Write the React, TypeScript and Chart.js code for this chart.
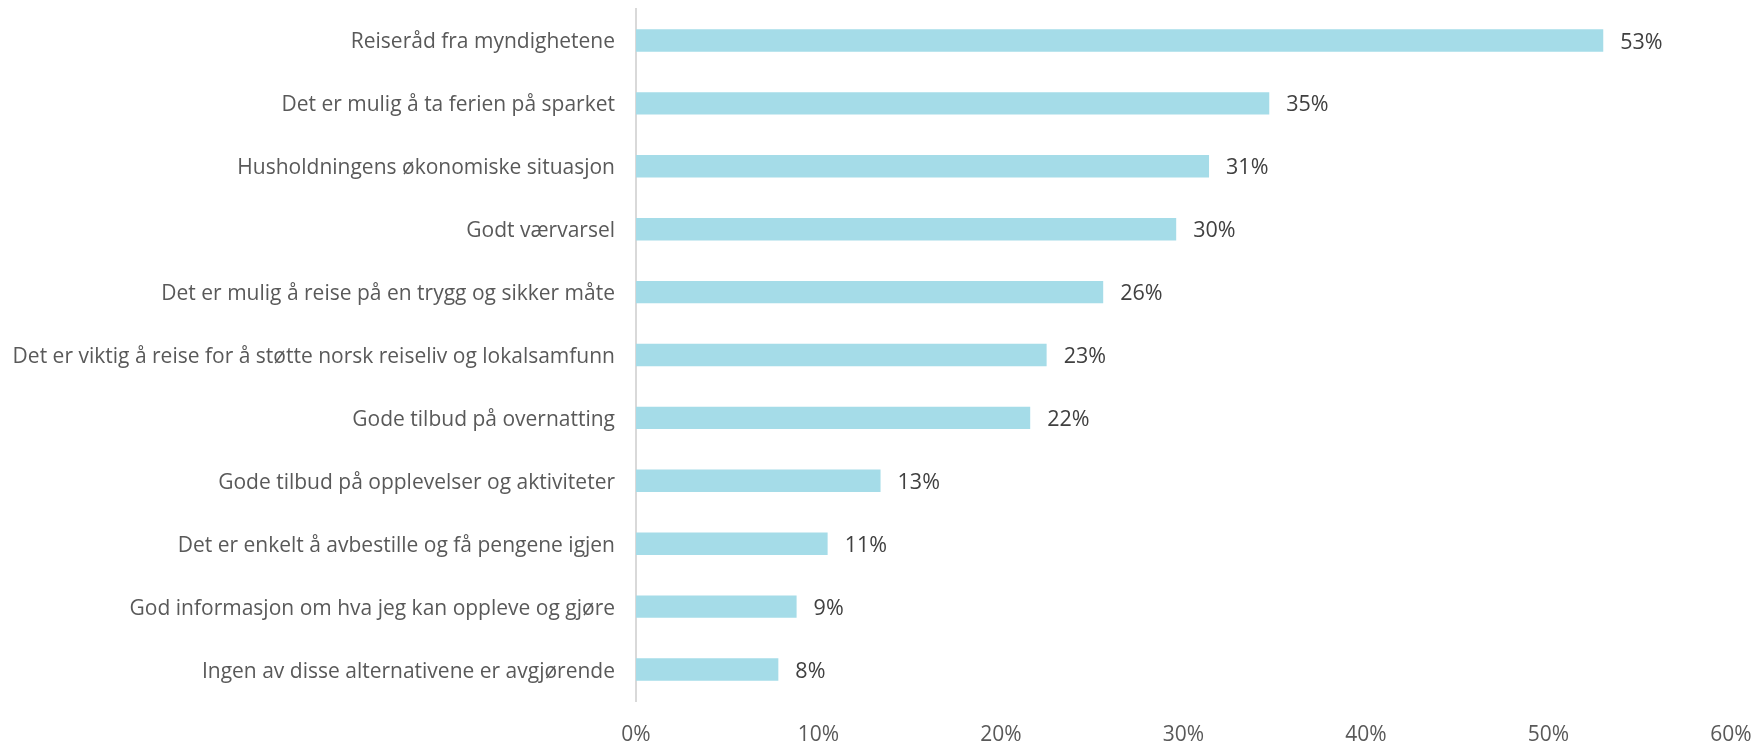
import React, { useEffect, useRef } from 'react';
import { Chart, registerables } from 'chart.js';

Chart.register(...registerables);

const categories = [
  'Reiseråd fra myndighetene',
  'Det er mulig å ta ferien på sparket',
  'Husholdningens økonomiske situasjon',
  'Godt værvarsel',
  'Det er mulig å reise på en trygg og sikker måte',
  'Det er viktig å reise for å støtte norsk reiseliv og lokalsamfunn',
  'Gode tilbud på overnatting',
  'Gode tilbud på opplevelser og aktiviteter',
  'Det er enkelt å avbestille og få pengene igjen',
  'God informasjon om hva jeg kan oppleve og gjøre',
  'Ingen av disse alternativene er avgjørende',
];

const values = [53, 34.7, 31.4, 29.6, 25.6, 22.5, 21.6, 13.4, 10.5, 8.8, 7.8];

const xTickValues = [0, 10, 20, 30, 40, 50, 60];

const FONT = '"Open Sans", Lato, sans-serif';

const valueLabels = {
  id: 'valueLabels',
  afterDatasetsDraw(chart: any) {
    const ctx = chart.ctx;
    const meta = chart.getDatasetMeta(0);
    ctx.save();
    ctx.font = `21.5px ${FONT}`;
    ctx.fillStyle = '#404040';
    ctx.textBaseline = 'middle';
    ctx.textAlign = 'left';
    meta.data.forEach((bar: any, i: number) => {
      ctx.fillText(Math.round(values[i]) + '%', bar.x + 17, bar.y + 2);
    });
    ctx.restore();
  },
};

export default function App() {
  const ref = useRef<HTMLCanvasElement | null>(null);

  useEffect(() => {
    document.body.style.margin = '0';
    const canvas = ref.current;
    if (!canvas) return;
    const chart = new Chart(canvas, {
      type: 'bar',
      data: {
        labels: categories,
        datasets: [
          {
            data: values,
            backgroundColor: '#A5DCE8',
            borderWidth: 0,
            barPercentage: 0.356,
            categoryPercentage: 1,
          },
        ],
      },
      options: {
        indexAxis: 'y',
        animation: false,
        responsive: false,
        maintainAspectRatio: false,
        devicePixelRatio: 1,
        layout: { padding: { top: 9, right: 23, left: 0, bottom: 0 } },
        plugins: {
          legend: { display: false },
          tooltip: { enabled: false },
        },
        scales: {
          x: {
            min: 0,
            max: 60,
            afterBuildTicks(scale: any) {
              scale.ticks = xTickValues.map((v) => ({ value: v }));
            },
            afterFit(scale: any) {
              scale.height = 41;
              scale.paddingLeft = 0;
              scale.paddingRight = 0;
            },
            grid: { display: false, drawTicks: false },
            border: { display: false },
            ticks: {
              padding: 21,
              color: '#595959',
              font: { family: FONT, size: 21 },
              callback: (v: any) => v + '%',
            },
          },
          y: {
            afterFit(scale: any) {
              scale.width = 636;
              scale.paddingTop = 0;
              scale.paddingBottom = 0;
            },
            grid: { display: false, drawTicks: false },
            border: { display: true, color: '#D9D9D9', width: 2 },
            ticks: {
              padding: 21,
              labelOffset: 2,
              color: '#595959',
              font: { family: FONT, size: 21 },
            },
          },
        },
      },
      plugins: [valueLabels],
    });
    return () => chart.destroy();
  }, []);

  return <canvas ref={ref} width={1754} height={742} style={{ display: 'block' }} />;
}
